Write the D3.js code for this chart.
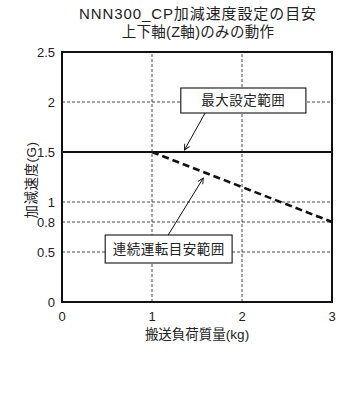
<!DOCTYPE html>
<html>
<head>
<meta charset="utf-8">
<script src="https://cdn.jsdelivr.net/npm/d3@7/dist/d3.min.js"></script>
<style>
  body { margin: 0; background: #fff; }
  text { font-family: "Liberation Sans", "Noto Sans CJK JP", sans-serif; fill: #222; }
</style>
</head>
<body>
<div class="chart"></div>
<script>
const titleLines = ["NNN300_CP加減速度設定の目安", "上下軸(Z軸)のみの動作"];
const xLabel = "搬送負荷質量(kg)";
const yLabel = "加減速度(G)";
const xTicks = [0, 1, 2, 3];
const yTicks = [0, 0.5, 0.8, 1, 1.5, 2, 2.5];
const xGrid = [1, 2];
const yGrid = [0.5, 0.8, 1, 2];
// max setting line and continuous-operation guideline
const maxX = [0, 3];
const maxY = [1.5, 1.5];
const contX = [1, 3];
const contY = [1.5, 0.8];
// annotation boxes in data units: box extents, arrow start -> tip
const notes = [
  { text: "最大設定範囲", x0: 1.32, x1: 2.71, y0: 2.14, y1: 1.89, ax: 1.59, ay: 1.89, tx: 1.36, ty: 1.52 },
  { text: "連続運転目安範囲", x0: 0.48, x1: 1.89, y0: 0.67, y1: 0.39, ax: 1.18, ay: 0.67, tx: 1.57, ty: 1.24 }
];

const width = 353, height = 410;
const margin = { left: 62, right: 21, top: 52, bottom: 108 };

const svg = d3.select(".chart").append("svg")
  .attr("width", width)
  .attr("height", height);

const x = d3.scaleLinear().domain([0, 3]).range([margin.left, width - margin.right]);
const y = d3.scaleLinear().domain([0, 2.5]).range([height - margin.bottom, margin.top]);

svg.append("defs").append("marker")
  .attr("id", "arr")
  .attr("viewBox", "0 0 10 10")
  .attr("refX", 9).attr("refY", 5)
  .attr("markerWidth", 7).attr("markerHeight", 7)
  .attr("orient", "auto")
  .append("path")
  .attr("d", "M1,1 L9,5 L1,9")
  .attr("fill", "none")
  .attr("stroke", "#111")
  .attr("stroke-width", 1.3);

// title
svg.selectAll(".title")
  .data(titleLines)
  .enter()
  .append("text")
  .attr("x", 198)
  .attr("y", (d, i) => 19 + i * 18)
  .attr("text-anchor", "middle")
  .style("font-size", (d, i) => i == 0 ? "15px" : "14.5px")
  .style("letter-spacing", (d, i) => i == 0 ? "0.9px" : "0.3px")
  .text(d => d);

// grid
svg.selectAll(".vg")
  .data(xGrid)
  .enter()
  .append("line")
  .attr("x1", d => x(d)).attr("x2", d => x(d))
  .attr("y1", y(0)).attr("y2", y(2.5))
  .attr("stroke", "#333")
  .attr("stroke-width", 0.9)
  .attr("stroke-dasharray", "3,2");

svg.selectAll(".hg")
  .data(yGrid)
  .enter()
  .append("line")
  .attr("x1", x(0)).attr("x2", x(3))
  .attr("y1", d => y(d)).attr("y2", d => y(d))
  .attr("stroke", "#333")
  .attr("stroke-width", 0.9)
  .attr("stroke-dasharray", "3,2");

const line = d3.line().x(d => x(d[0])).y(d => y(d[1]));

svg.append("path")
  .attr("d", line(d3.zip(maxX, maxY)))
  .attr("stroke", "#111")
  .attr("stroke-width", 2)
  .attr("fill", "none");

svg.append("path")
  .attr("d", line(d3.zip(contX, contY)))
  .attr("stroke", "#111")
  .attr("stroke-width", 2.6)
  .attr("stroke-dasharray", "7,4")
  .attr("fill", "none");

// frame
svg.append("rect")
  .attr("x", x(0)).attr("y", y(2.5))
  .attr("width", x(3) - x(0))
  .attr("height", y(0) - y(2.5))
  .attr("fill", "none")
  .attr("stroke", "#111")
  .attr("stroke-width", 2);

// tick labels
svg.selectAll(".yt")
  .data(yTicks)
  .enter()
  .append("text")
  .attr("x", x(0) - 7)
  .attr("y", d => y(d))
  .attr("dy", "0.35em")
  .attr("text-anchor", "end")
  .style("font-size", "13px")
  .text(d => d);

svg.selectAll(".xt")
  .data(xTicks)
  .enter()
  .append("text")
  .attr("x", d => x(d))
  .attr("y", y(0) + 19)
  .attr("text-anchor", "middle")
  .style("font-size", "13px")
  .text(d => d);

svg.append("text")
  .attr("x", (x(0) + x(3)) / 2)
  .attr("y", y(0) + 37)
  .attr("text-anchor", "middle")
  .style("font-size", "13.5px")
  .text(xLabel);

svg.append("text")
  .attr("transform", `translate(31, ${(y(0) + y(2.5)) / 2 + 3}) rotate(-90)`)
  .attr("text-anchor", "middle")
  .attr("dy", "0.35em")
  .style("font-size", "13.5px")
  .style("letter-spacing", "0.5px")
  .text(yLabel);

// annotations
const note = svg.selectAll(".note")
  .data(notes)
  .enter()
  .append("g");

note.append("line")
  .attr("x1", d => x(d.ax)).attr("y1", d => y(d.ay))
  .attr("x2", d => x(d.tx)).attr("y2", d => y(d.ty))
  .attr("stroke", "#111")
  .attr("stroke-width", 1)
  .attr("marker-end", "url(#arr)");

note.append("rect")
  .attr("x", d => x(d.x0))
  .attr("y", d => y(d.y0))
  .attr("width", d => x(d.x1) - x(d.x0))
  .attr("height", d => y(d.y1) - y(d.y0))
  .attr("fill", "#fff")
  .attr("stroke", "#111")
  .attr("stroke-width", 1.1);

note.append("text")
  .attr("x", d => (x(d.x0) + x(d.x1)) / 2)
  .attr("y", d => (y(d.y0) + y(d.y1)) / 2)
  .attr("dy", "0.36em")
  .attr("text-anchor", "middle")
  .style("font-size", "13.5px")
  .style("letter-spacing", "0.5px")
  .text(d => d.text);
</script>
</body>
</html>
